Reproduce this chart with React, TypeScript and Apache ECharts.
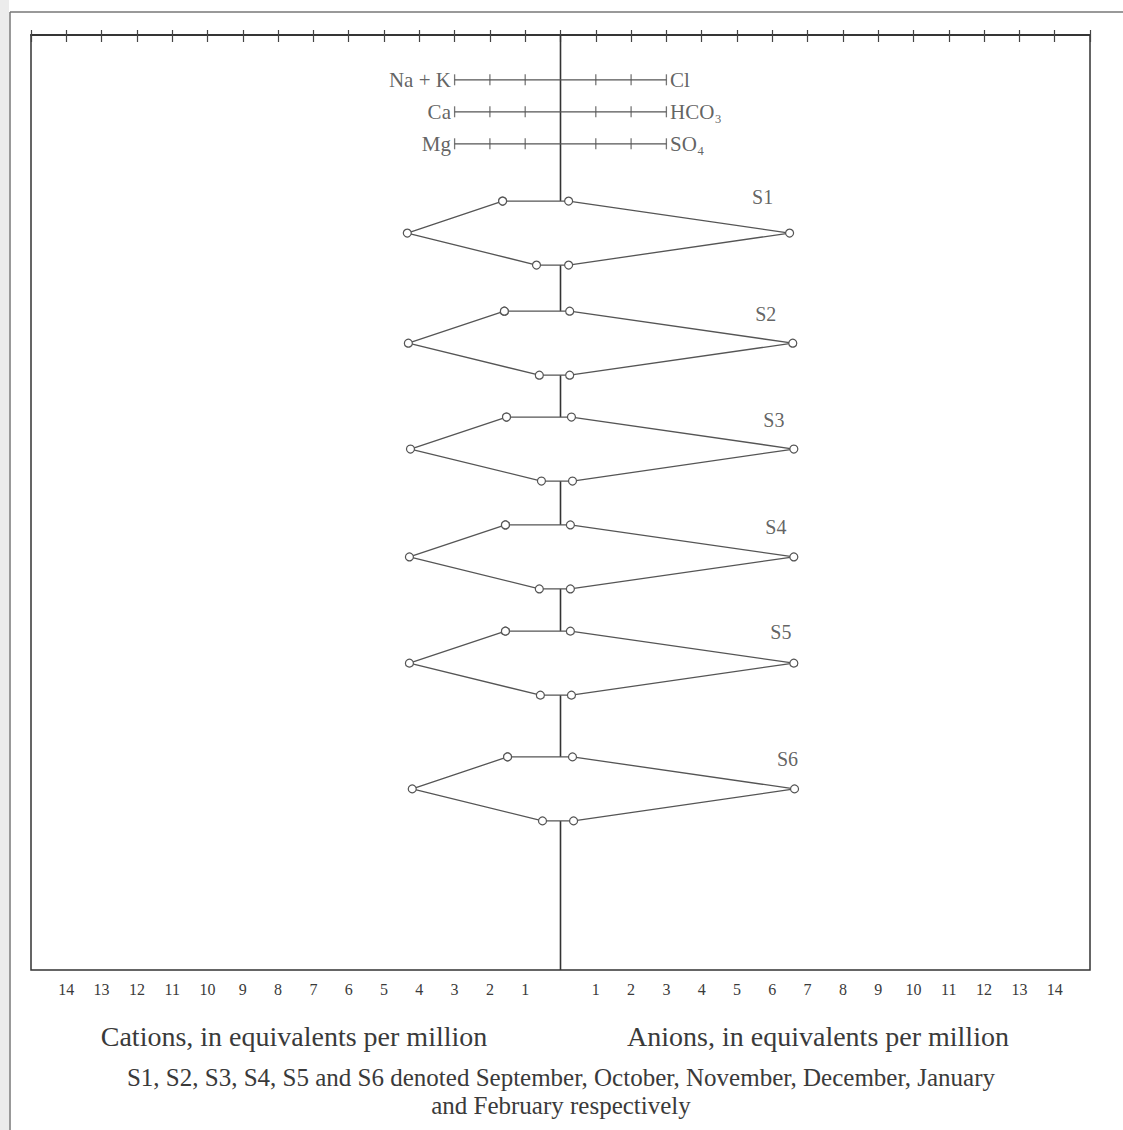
import React, { useEffect, useRef } from "react";
import * as echarts from "echarts";

// Stiff diagram: major ions (meq/L) for monthly samples S1–S6
const SAMPLES = ["S1", "S2", "S3", "S4", "S5", "S6"];
const NA_K = [1.64, 1.59, 1.53, 1.56, 1.56, 1.5];
const CA = [4.34, 4.31, 4.25, 4.28, 4.28, 4.2];
const MG = [0.68, 0.6, 0.54, 0.6, 0.57, 0.51];
const CL = [0.23, 0.26, 0.31, 0.28, 0.28, 0.34];
const HCO3 = [6.49, 6.58, 6.61, 6.61, 6.61, 6.63];
const SO4 = [0.23, 0.26, 0.34, 0.28, 0.31, 0.37];

// Key rows: cation name on the left, anion name on the right
const KEY_CATIONS = ["Na + K", "Ca", "Mg"];
const KEY_ANIONS = ["Cl", "HCO₃", "SO₄"];
const KEY_TICKS = [-3, -2, -1, 1, 2, 3];

// Layout (vertical placement in row units, 1 row = one ion line)
const Y_MAX = 29.22;
const KEY_TOP = 1.4;
const SAMPLE_TOP = [5.19, 8.63, 11.94, 15.31, 18.63, 22.56];
const NAME_SHIFT = [-27, -27, -20, -18, -13, -7];
const NAME_LIFT = [-4, 3, 3, 2, 1, 2];
const X_EXTENT = 15;

const FONT = "'Liberation Serif', 'DejaVu Serif', serif";
const INK = "#3a3a3a";
const LINE = "#555";

export default function App() {
  const ref = useRef<HTMLDivElement>(null);

  useEffect(() => {
    if (!ref.current) return;
    const chart = echarts.init(ref.current, null, { renderer: "svg" });

    const series: any[] = [];

    // Sample polygons
    SAMPLES.forEach((name, i) => {
      const t = SAMPLE_TOP[i];
      series.push({
        type: "line",
        name,
        data: [
          [-NA_K[i], t],
          [CL[i], t],
          [HCO3[i], t + 1],
          [SO4[i], t + 2],
          [-MG[i], t + 2],
          [-CA[i], t + 1],
          [-NA_K[i], t],
        ],
        symbol: "circle",
        symbolSize: 8,
        showSymbol: true,
        itemStyle: { color: "#fff", borderColor: LINE, borderWidth: 1.2 },
        lineStyle: { color: LINE, width: 1.3 },
        z: 3,
      });
    });

    // Sample names
    series.push({
      type: "scatter",
      data: SAMPLES.map((name, i) => ({
        value: [HCO3[i], SAMPLE_TOP[i]],
        name,
        label: { offset: [NAME_SHIFT[i], NAME_LIFT[i]] },
      })),
      symbolSize: 1,
      itemStyle: { color: "transparent" },
      label: {
        show: true,
        position: "inside",
        formatter: (p: any) => p.name,
        fontFamily: FONT,
        fontSize: 20,
        color: INK,
      },
      z: 4,
    });

    // Central zero line, broken inside each polygon
    const bounds: number[] = [0];
    SAMPLE_TOP.forEach((t) => bounds.push(t, t + 2));
    bounds.push(Y_MAX);
    for (let k = 0; k < bounds.length; k += 2) {
      series.push({
        type: "line",
        data: [
          [0, bounds[k]],
          [0, bounds[k + 1]],
        ],
        symbol: "none",
        lineStyle: { color: "#333", width: 1.6 },
        z: 2,
      });
    }

    // Key: scale bars with ticks and ion names
    KEY_CATIONS.forEach((cat, r) => {
      const y = KEY_TOP + r;
      series.push({
        type: "line",
        data: [
          [-3, y],
          [3, y],
        ],
        symbol: "none",
        lineStyle: { color: LINE, width: 1.2 },
        z: 2,
      });
      series.push({
        type: "scatter",
        symbol: "rect",
        symbolSize: [1.3, 11],
        itemStyle: { color: LINE },
        data: KEY_TICKS.map((v) => {
          const item: any = { value: [v, y] };
          if (v === -3) {
            item.label = {
              show: true,
              position: "left",
              distance: 3,
              formatter: cat,
              fontFamily: FONT,
              fontSize: 21,
              color: INK,
            };
          } else if (v === 3) {
            item.label = {
              show: true,
              position: "right",
              distance: 3,
              formatter: KEY_ANIONS[r],
              fontFamily: FONT,
              fontSize: 21,
              color: INK,
            };
          }
          return item;
        }),
        z: 3,
      });
    });

    const tickLabel = (v: number) =>
      v === 0 || Math.abs(v) >= X_EXTENT ? "" : String(Math.abs(v));

    chart.setOption({
      animation: false,
      backgroundColor: "#fff",
      grid: {
        left: 31,
        right: 33,
        top: 35,
        bottom: 160,
        show: true,
        borderColor: "#333",
        borderWidth: 1.5,
      },
      xAxis: [
        {
          type: "value",
          min: -X_EXTENT,
          max: X_EXTENT,
          interval: 1,
          position: "bottom",
          splitLine: { show: false },
          axisLine: { show: true, lineStyle: { color: "#333", width: 1.5 } },
          axisTick: {
            show: true,
            inside: true,
            length: 5,
            lineStyle: { color: "#444", width: 1.2 },
          },
          axisLabel: {
            formatter: tickLabel,
            fontFamily: FONT,
            fontSize: 16,
            color: INK,
            margin: 11,
          },
        },
        {
          type: "value",
          min: -X_EXTENT,
          max: X_EXTENT,
          interval: 1,
          position: "top",
          splitLine: { show: false },
          axisLine: { show: true, lineStyle: { color: "#333", width: 1.5 } },
          axisTick: {
            show: true,
            inside: true,
            length: 7,
            lineStyle: { color: "#444", width: 1.2 },
          },
          axisLabel: { show: false },
        },
      ],
      yAxis: {
        type: "value",
        min: 0,
        max: Y_MAX,
        inverse: true,
        show: false,
      },
      graphic: [
        // outer page frame
        {
          type: "rect",
          shape: { x: 0, y: 0, width: 9, height: 1130 },
          style: { fill: "#ececec" },
          silent: true,
        },
        {
          type: "line",
          shape: { x1: 10, y1: 12, x2: 1123, y2: 12 },
          style: { stroke: "#777", lineWidth: 1.5 },
          silent: true,
        },
        {
          type: "line",
          shape: { x1: 10, y1: 12, x2: 10, y2: 1130 },
          style: { stroke: "#777", lineWidth: 1.5 },
          silent: true,
        },
        {
          type: "text",
          x: 294,
          y: 1036,
          style: {
            text: "Cations, in equivalents per million",
            font: `28px ${FONT}`,
            fill: INK,
            textAlign: "center",
            textVerticalAlign: "middle",
          },
        },
        {
          type: "text",
          x: 818,
          y: 1036,
          style: {
            text: "Anions, in equivalents per million",
            font: `28px ${FONT}`,
            fill: INK,
            textAlign: "center",
            textVerticalAlign: "middle",
          },
        },
        {
          type: "text",
          x: 561,
          y: 1077,
          style: {
            text: "S1, S2, S3, S4, S5 and S6 denoted September, October, November, December, January",
            font: `25px ${FONT}`,
            fill: INK,
            textAlign: "center",
            textVerticalAlign: "middle",
          },
        },
        {
          type: "text",
          x: 561,
          y: 1105,
          style: {
            text: "and February respectively",
            font: `25px ${FONT}`,
            fill: INK,
            textAlign: "center",
            textVerticalAlign: "middle",
          },
        },
      ],
      series,
    });

    return () => chart.dispose();
  }, []);

  return (
    <div
      ref={ref}
      style={{ position: "absolute", left: 0, top: 0, width: 1123, height: 1130 }}
    />
  );
}
